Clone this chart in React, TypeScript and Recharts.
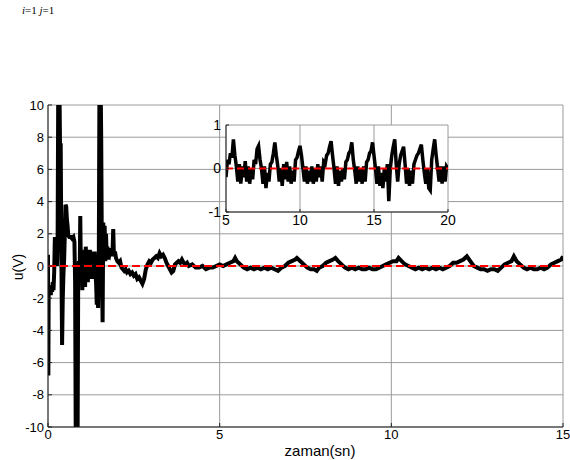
import { CartesianGrid, Line, LineChart, XAxis, YAxis } from "recharts";

// main plot: control signal u(V) over time (sn)
const mainTime = [
  0, 0.01, 0.02, 0.04, 0.06, 0.08, 0.1, 0.12, 0.14, 0.16, 0.18, 0.2, 0.22, 0.24, 0.26, 0.28,
  0.3, 0.33, 0.35, 0.37, 0.39, 0.41, 0.43, 0.45, 0.47, 0.49, 0.51, 0.53, 0.55, 0.57, 0.59,
  0.62, 0.66, 0.7, 0.74, 0.77, 0.79, 0.81, 0.86, 0.88, 0.9, 0.92, 0.94, 0.96, 0.98, 1.0,
  1.02, 1.04, 1.06, 1.08, 1.1, 1.12, 1.14, 1.16, 1.18, 1.2, 1.22, 1.24, 1.26, 1.28, 1.3,
  1.32, 1.34, 1.36, 1.38, 1.4, 1.42, 1.44, 1.46, 1.48, 1.5, 1.53, 1.55, 1.57, 1.59, 1.61,
  1.63, 1.65, 1.67, 1.69, 1.71, 1.73, 1.75, 1.77, 1.8, 1.83, 1.86, 1.88, 1.9, 1.92, 1.95,
  1.98, 2.02, 2.06, 2.1, 2.14, 2.18, 2.22, 2.26, 2.3, 2.35, 2.4, 2.45, 2.5, 2.55, 2.6,
  2.65, 2.7, 2.75, 2.8, 2.85, 2.9, 2.95, 3.0, 3.05, 3.1, 3.15, 3.2, 3.25, 3.3, 3.35, 3.4,
  3.45, 3.5, 3.55, 3.6, 3.65, 3.7, 3.75, 3.8, 3.85, 3.9, 3.95, 4.0, 4.05, 4.1, 4.2, 4.3,
  4.4, 4.5, 4.6, 4.7, 4.8, 4.9, 5.0, 5.1, 5.2, 5.3, 5.4, 5.45, 5.5, 5.6, 5.7, 5.8, 5.9,
  6.0, 6.1, 6.2, 6.3, 6.4, 6.5, 6.6, 6.7, 6.8, 6.9, 7.0, 7.1, 7.2, 7.25, 7.35, 7.45, 7.55,
  7.65, 7.75, 7.83, 7.9, 8.0, 8.1, 8.2, 8.3, 8.37, 8.45, 8.55, 8.65, 8.75, 8.85, 8.95,
  9.05, 9.15, 9.25, 9.35, 9.45, 9.55, 9.65, 9.75, 9.85, 9.95, 10.05, 10.15, 10.21, 10.3,
  10.4, 10.5, 10.6, 10.7, 10.8, 10.9, 11.0, 11.1, 11.2, 11.3, 11.4, 11.5, 11.6, 11.7, 11.8,
  11.9, 12.0, 12.1, 12.2, 12.3, 12.4, 12.5, 12.6, 12.7, 12.8, 12.9, 13.0, 13.1, 13.2, 13.3,
  13.4, 13.5, 13.57, 13.65, 13.75, 13.85, 13.95, 14.05, 14.15, 14.25, 14.35, 14.45, 14.55,
  14.65, 14.75, 14.85, 14.95, 15.0,
];
const mainU = [
  0.7, -6.8, -1.2, -1.7, -1.3, -1.8, -1.4, -1.6, -1.0, -1.5, -0.4, 1.8, 0.3, 1.0, 0.0, 1.5,
  12, 12, 7.5, 7.5, 0.5, -4.9, -2.0, -0.5, 0.4, 2.0, 3.8, 3.7, 2.9, 2.5, 1.9,
  1.8, 1.8, 1.7, 1.8, 1.5, -1.0, -12, -12, -0.5, 0.3, -1.2, 3.1, -0.8, 1.0, -1.5,
  0.4, -0.9, 0.6, -1.3, 1.2, -0.3, 0.8, -1.0, 0.2, -0.6, 1.0, -0.4, 0.5, -0.8, 0.3,
  0.9, -0.2, 0.9, -0.5, -1.0, -2.4, -1.5, -2.6, 0.5, 12, 12, 7.8, 0.3, -3.5, 2.7,
  0.5, 2.5, 0.3, 2.0, 0.6, 1.2, 0.4, 1.0, 0.8, 1.1, 0.6, 0.9, 2.3, 0.6, 0.9,
  0.5, 0.3, 0.2, 0.3, -0.1, -0.2, -0.3, -0.2, -0.4, -0.3, -0.5, -0.4, -0.6, -0.5, -0.8,
  -0.7, -0.9, -1.1, -0.8, -0.2, 0.1, 0.3, 0.2, 0.4, 0.5, 0.6, 0.5, 0.8, 0.6, 0.7, 0.5,
  0.2, 0.0, -0.2, -0.4, -0.3, 0.1, 0.2, 0.3, 0.2, 0.4, 0.2, 0.1, 0.2, 0.0, 0.1, -0.1,
  -0.1, 0.0, -0.2, -0.1, -0.1, 0.0, 0.1, 0.0, 0.1, 0.2, 0.3, 0.5, 0.3, 0.1, -0.1, -0.2, -0.1,
  -0.2, -0.1, -0.2, -0.1, -0.2, -0.1, -0.2, -0.3, -0.1, 0.0, 0.2, 0.3, 0.4, 0.5, 0.3, 0.1, -0.1,
  -0.2, -0.2, -0.3, -0.1, 0.0, 0.2, 0.3, 0.4, 0.5, 0.3, 0.1, -0.1, -0.2, -0.1, -0.2,
  -0.1, -0.2, -0.2, -0.1, -0.2, -0.2, -0.1, 0.0, 0.1, 0.2, 0.3, 0.3, 0.5, 0.3,
  0.1, 0.0, -0.1, -0.2, -0.1, -0.2, -0.1, -0.2, -0.1, -0.2, -0.1, -0.2, -0.1, 0.0, 0.2,
  0.2, 0.3, 0.4, 0.6, 0.3, 0.0, -0.1, -0.2, -0.2, -0.3, -0.2, -0.2, -0.3, -0.1, 0.1,
  0.2, 0.3, 0.6, 0.3, 0.1, -0.1, -0.2, -0.1, -0.2, -0.2, -0.1, -0.2, -0.1,
  0.1, 0.2, 0.3, 0.4, 0.6,
];

// inset: close-up of the same signal, 5..20 sn
const insetTime = [
  5.0, 5.1, 5.2, 5.3, 5.4, 5.5, 5.6, 5.7, 5.8, 5.9, 6.0, 6.1, 6.2, 6.3, 6.4, 6.5, 6.6, 6.7,
  6.8, 6.9, 7.0, 7.1, 7.2, 7.3, 7.4, 7.5, 7.6, 7.7, 7.8, 7.9, 8.0, 8.1, 8.2, 8.3, 8.4, 8.5,
  8.6, 8.7, 8.8, 8.9, 9.0, 9.1, 9.2, 9.3, 9.4, 9.5, 9.6, 9.7, 9.8, 9.9, 10.0, 10.1, 10.2,
  10.3, 10.4, 10.5, 10.6, 10.7, 10.8, 10.9, 11.0, 11.1, 11.2, 11.3, 11.4, 11.5, 11.6, 11.7,
  11.8, 11.9, 12.0, 12.1, 12.2, 12.3, 12.4, 12.5, 12.6, 12.7, 12.8, 12.9, 13.0, 13.1, 13.2,
  13.3, 13.4, 13.5, 13.6, 13.7, 13.8, 13.9, 14.0, 14.1, 14.2, 14.3, 14.4, 14.5, 14.6, 14.7,
  14.8, 14.9, 15.0, 15.1, 15.2, 15.3, 15.4, 15.5, 15.6, 15.7, 15.8, 15.9, 16.0, 16.1, 16.2,
  16.3, 16.4, 16.5, 16.6, 16.7, 16.8, 16.9, 17.0, 17.1, 17.2, 17.3, 17.4, 17.5, 17.6, 17.7,
  17.8, 17.9, 18.0, 18.1, 18.2, 18.3, 18.4, 18.5, 18.6, 18.7, 18.8, 18.9, 19.0, 19.1, 19.2,
  19.3, 19.4, 19.5, 19.6, 19.7, 19.8, 19.9, 20.0,
];
const insetU = [
  -0.2, 0.2, 0.1, 0.35, 0.25, 0.67, 0.3, 0.05, -0.3, 0.1, -0.35, 0.05, -0.2, 0.17, -0.3, 0.05, -0.35, 0.0,
  -0.25, 0.2, 0.1, 0.45, 0.52, 0.2, 0.0, -0.35, 0.05, -0.45, -0.1, -0.3, 0.1, 0.15, 0.35, 0.6, 0.3, 0.05,
  -0.3, 0.0, -0.4, 0.1, -0.25, 0.15, -0.3, 0.05, -0.35, -0.05, -0.3, 0.2, 0.25, 0.4, 0.52, 0.3, 0.0,
  -0.3, 0.05, -0.35, -0.05, -0.3, 0.05, -0.35, 0.0, -0.3, 0.1, -0.2, 0.05, -0.3, 0.15, 0.1,
  0.3, 0.35, 0.5, 0.63, 0.3, 0.0, -0.35, 0.05, -0.4, -0.05, -0.3, 0.0, -0.25, 0.15, 0.2,
  0.35, 0.4, 0.6, 0.2, -0.05, -0.35, 0.05, -0.3, 0.0, -0.35, 0.05, -0.3, 0.15, 0.2, 0.35,
  0.4, 0.6, 0.3, 0.0, -0.35, 0.05, -0.4, -0.1, -0.45, 0.0, -0.3, 0.1, -0.75, 0.0, 0.3,
  0.5, 0.67, 0.1, -0.3, 0.1, 0.3, 0.4, 0.5, 0.1, -0.35, 0.0, -0.4, -0.05, -0.35, 0.1,
  0.2, 0.3, 0.35, 0.45, 0.55, 0.2, -0.1, -0.35, 0.0, -0.45, -0.5, 0.2, 0.45, 0.67, 0.3,
  0.0, -0.3, 0.05, -0.35, 0.05, -0.3, 0.05, 0.0,
];

// dashed red reference (setpoint 0)
const refTime = [0, 15];
const insetRefTime = [5, 20];
const refU = [0, 0];

const mainXTicks = [0, 5, 10, 15];
const mainYTicks = [-10, -8, -6, -4, -2, 0, 2, 4, 6, 8, 10];
const insetXTicks = [5, 10, 15, 20];
const insetYTicks = [-1, 0, 1];

const font = "'Liberation Sans', Arial, sans-serif";
const axisColor = "#222";
const gridColor = "#9a9a9a";

const mainData = mainTime.map((t, i) => ({ t, u: mainU[i] }));
const mainRef = refTime.map((t, i) => ({ t, u: refU[i] }));
const insetData = insetTime.map((t, i) => ({ t, u: insetU[i] }));
const insetRef = insetRefTime.map((t, i) => ({ t, u: refU[i] }));

const blank = () => "";

export default function App() {
  const mainTick = { fill: "#000", fontSize: 13, fontFamily: font };
  const insetTick = { fill: "#000", fontSize: 14, fontFamily: font };

  return (
    <div style={{ position: "absolute", left: 0, top: 0, width: 570, height: 460, background: "#fff", overflow: "hidden" }}>
      <div
        style={{
          position: "absolute",
          left: 22,
          top: 4,
          fontFamily: "'Liberation Serif', 'Times New Roman', serif",
          fontSize: 11,
          whiteSpace: "nowrap",
        }}
      >
        <i>i</i>=1 <i>j</i>=1
      </div>

      <LineChart width={570} height={460} data={mainData} margin={{ top: 105, right: 7, bottom: 8, left: 8 }}>
        <CartesianGrid stroke={gridColor} strokeWidth={1} />
        <XAxis
          dataKey="t"
          type="number"
          domain={[0, 15]}
          ticks={mainXTicks}
          allowDataOverflow
          height={25}
          tickSize={-4}
          tickMargin={7}
          tick={mainTick}
          stroke={axisColor}
        />
        <XAxis
          xAxisId="top"
          orientation="top"
          dataKey="t"
          type="number"
          domain={[0, 15]}
          ticks={mainXTicks}
          allowDataOverflow
          height={0}
          tickSize={-4}
          tickFormatter={blank}
          stroke={axisColor}
        />
        <YAxis
          type="number"
          domain={[-10, 10]}
          ticks={mainYTicks}
          allowDataOverflow
          width={40}
          tickSize={-4}
          tickMargin={8}
          tick={mainTick}
          stroke={axisColor}
        />
        <YAxis
          yAxisId="right"
          orientation="right"
          type="number"
          domain={[-10, 10]}
          ticks={mainYTicks}
          allowDataOverflow
          width={0}
          tickSize={-4}
          tickFormatter={blank}
          stroke={axisColor}
        />
        <Line
          dataKey="u"
          stroke="#000"
          strokeWidth={4}
          dot={false}
          activeDot={false}
          isAnimationActive={false}
        />
        <Line
          data={mainRef}
          dataKey="u"
          stroke="#ff0000"
          strokeWidth={2}
          strokeDasharray="8 4"
          dot={false}
          activeDot={false}
          isAnimationActive={false}
        />
      </LineChart>

      <div
        style={{
          position: "absolute",
          left: 18,
          top: 267,
          transform: "translate(-50%, -50%) rotate(-90deg)",
          fontFamily: font,
          fontSize: 14,
          whiteSpace: "nowrap",
        }}
      >
        u(V)
      </div>
      <div
        style={{
          position: "absolute",
          left: 320,
          top: 450,
          transform: "translate(-50%, -50%)",
          fontFamily: font,
          fontSize: 15,
          whiteSpace: "nowrap",
        }}
      >
        zaman(sn)
      </div>

      <div style={{ position: "absolute", left: 196, top: 115 }}>
        <LineChart width={262} height={125} data={insetData} margin={{ top: 10, right: 10, bottom: 8, left: 6 }}>
          <CartesianGrid stroke={gridColor} strokeWidth={1} fill="#fff" fillOpacity={1} />
          <XAxis
            dataKey="t"
            type="number"
            domain={[5, 20]}
            ticks={insetXTicks}
            allowDataOverflow
            height={20}
            tickSize={-3}
            tickMargin={6}
            tick={insetTick}
            stroke={axisColor}
          />
          <XAxis
            xAxisId="top"
            orientation="top"
            dataKey="t"
            type="number"
            domain={[5, 20]}
            ticks={insetXTicks}
            allowDataOverflow
            height={0}
            tickSize={-3}
            tickFormatter={blank}
            stroke={axisColor}
          />
          <YAxis
            type="number"
            domain={[-1, 1]}
            ticks={insetYTicks}
            allowDataOverflow
            width={24}
            tickSize={-3}
            tickMargin={8}
            tick={insetTick}
            stroke={axisColor}
          />
          <YAxis
            yAxisId="right"
            orientation="right"
            type="number"
            domain={[-1, 1]}
            ticks={insetYTicks}
            allowDataOverflow
            width={0}
            tickSize={-3}
            tickFormatter={blank}
            stroke={axisColor}
          />
          <Line
            dataKey="u"
            stroke="#000"
            strokeWidth={3.5}
            dot={false}
            activeDot={false}
            isAnimationActive={false}
          />
          <Line
            data={insetRef}
            dataKey="u"
            stroke="#ff0000"
            strokeWidth={2}
            strokeDasharray="7 4"
            dot={false}
            activeDot={false}
            isAnimationActive={false}
          />
        </LineChart>
      </div>
    </div>
  );
}
